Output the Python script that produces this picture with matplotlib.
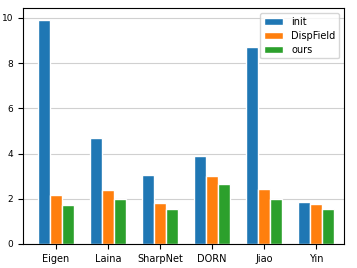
import matplotlib.pyplot as plt
import numpy as np

methods = ['Eigen', 'Laina', 'SharpNet', 'DORN', 'Jiao', 'Yin']
init = [9.92, 4.7, 3.03, 3.87, 8.73, 1.85]
dispfield = [2.15, 2.37, 1.83, 3.0, 2.42, 1.77]
ours = [1.7, 1.97, 1.53, 2.63, 2.0, 1.55]

plt.rcParams['font.size'] = 7

fig = plt.figure(figsize=(3.57, 2.68), dpi=100)
ax = fig.add_axes([0.064, 0.09, 0.9, 0.88])

x = np.arange(len(methods))
w = 0.235
ax.bar(x - w, init, w, color='#1f77b4', edgecolor='white', linewidth=1, label='init')
ax.bar(x, dispfield, w, color='#ff7f0e', edgecolor='white', linewidth=1, label='DispField')
ax.bar(x + w, ours, w, color='#2ca02c', edgecolor='white', linewidth=1, label='ours')

ax.set_xticks(x)
ax.set_xticklabels(methods)
ax.set_xlim(-0.64, 5.54)
ax.set_ylim(0, 10.44)
ax.set_yticks([0, 2, 4, 6, 8, 10])
ax.yaxis.grid(True, color='#d0d0d0', linewidth=0.8)
ax.set_axisbelow(True)
ax.tick_params(labelsize=6.5)
ax.tick_params(axis='x', labelsize=7)
ax.legend(loc='upper right', fontsize=7, labelspacing=0.4)

fig.savefig('out.png', dpi=100)
